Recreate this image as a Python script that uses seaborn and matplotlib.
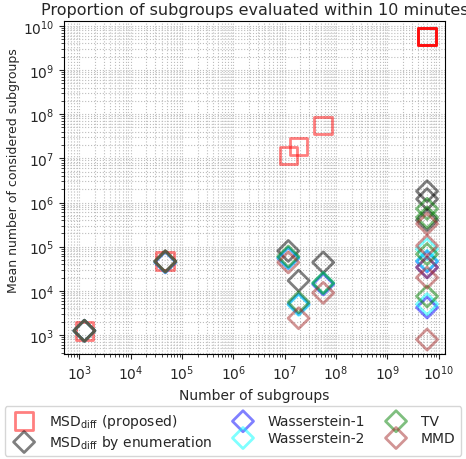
import numpy as np
import pandas as pd
import matplotlib
matplotlib.use("Agg")
import matplotlib.pyplot as plt
import seaborn as sns

# ---- data ----
prop_x = [1.25e3, 4.7e4, 1.17e7, 1.86e7, 5.6e7, 5.9e9, 5.9e9, 5.9e9, 5.9e9]
prop_y = [1.25e3, 4.7e4, 1.15e7, 1.85e7, 5.6e7, 5.8e9, 5.8e9, 5.8e9, 5.8e9]

enum_x = [1.25e3, 4.7e4, 1.17e7, 1.86e7, 5.6e7, 5.9e9, 5.9e9, 5.9e9]
enum_y = [1.25e3, 4.7e4, 8.0e4, 1.7e4, 4.4e4, 1.8e6, 1.2e6, 4.0e5]

w1_x = [1.25e3, 4.7e4, 1.17e7, 1.86e7, 5.6e7, 5.9e9, 5.9e9, 5.9e9]
w1_y = [1.25e3, 4.4e4, 5.5e4, 5.0e3, 1.4e4, 4.6e4, 3.4e4, 4.2e3]

w2_x = [1.25e3, 4.7e4, 1.17e7, 1.86e7, 5.6e7, 5.9e9, 5.9e9, 5.9e9]
w2_y = [1.25e3, 4.5e4, 5.6e4, 4.8e3, 1.5e4, 8.8e4, 4.8e4, 5.0e3]

tv_x = [1.25e3, 4.7e4, 1.17e7, 1.86e7, 5.6e7, 5.9e9, 5.9e9, 5.9e9, 5.9e9]
tv_y = [1.25e3, 4.6e4, 6.0e4, 5.5e3, 1.5e4, 7.2e5, 4.6e5, 6.8e4, 7.5e3]

mmd_x = [1.25e3, 4.7e4, 1.17e7, 1.86e7, 5.6e7, 5.9e9, 5.9e9, 5.9e9, 5.9e9, 5.9e9]
mmd_y = [1.25e3, 4.6e4, 4.4e4, 2.4e3, 9.0e3, 3.3e5, 1.05e5, 3.4e4, 2.0e4, 7.9e2]

series = [
    (r"MSD$_{\mathrm{diff}}$ (proposed)", prop_x, prop_y, "s", "red", 160),
    (r"MSD$_{\mathrm{diff}}$ by enumeration", enum_x, enum_y, "D", "black", 115),
    ("Wasserstein-1", w1_x, w1_y, "D", "blue", 115),
    ("Wasserstein-2", w2_x, w2_y, "D", "cyan", 115),
    ("TV", tv_x, tv_y, "D", "green", 115),
    ("MMD", mmd_x, mmd_y, "D", "brown", 115),
]

sns.set_style("ticks")
plt.rcParams["font.family"] = ["DejaVu Sans"]

fig = plt.figure(figsize=(4.66, 4.60), dpi=100)
ax = fig.add_axes([64/466, 1 - 355/460, (445-64)/466, (355-22)/460])

for label, xs, ys, mk, col, s in series:
    df = pd.DataFrame({"x": xs, "y": ys})
    sns.scatterplot(data=df, x="x", y="y", ax=ax, marker=mk, s=s,
                    facecolors="none", edgecolor=col, linewidth=2.0,
                    alpha=0.5, label=label, legend=False)

ax.set_xscale("log")
ax.set_yscale("log")
ax.set_xlim(10**2.7, 10**10.12)
ax.set_ylim(10**2.57, 10**10.11)
ax.grid(True, which="both", color="#bdbdbd", linestyle=":", linewidth=0.8)
ax.set_axisbelow(True)
for sp in ax.spines.values():
    sp.set_visible(True)
    sp.set_color("black")
ax.set_xlabel("Number of subgroups", fontsize=10)
ax.set_ylabel("Mean number of considered subgroups", fontsize=9)
ax.yaxis.set_label_coords((20 - 64) / 381, (355 - 171) / 333)
ax.set_title("Proportion of subgroups evaluated within 10 minutes",
             fontsize=11.5, pad=5)

handles, labels = ax.get_legend_handles_labels()
fig.legend(handles, labels, loc="lower center", bbox_to_anchor=(0.5, 0.0),
           ncol=3, fontsize=10, frameon=True, handletextpad=0.8,
           columnspacing=1.2, labelspacing=0.2, borderaxespad=0.2)

fig.savefig("out.png", dpi=100)
